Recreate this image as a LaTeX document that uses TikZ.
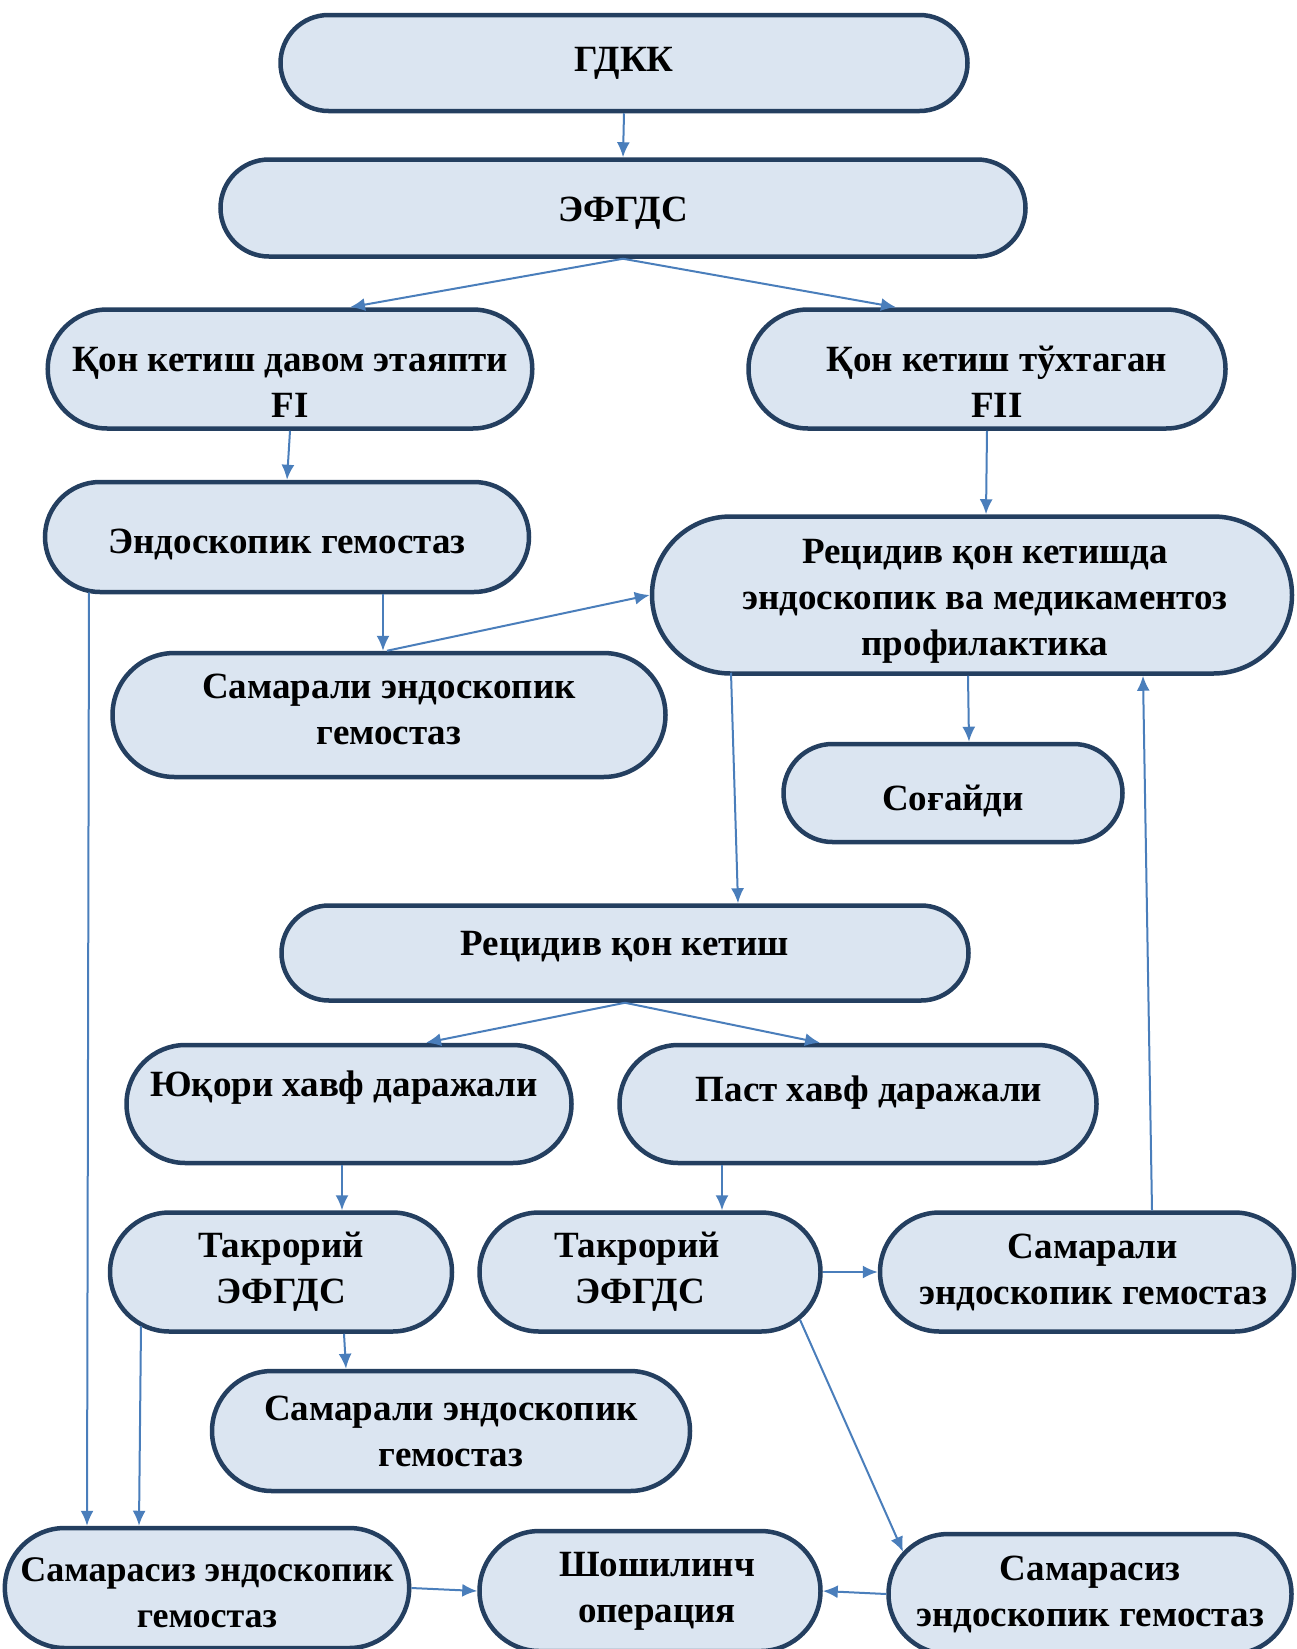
\documentclass[tikz,border=0pt]{standalone}
\usepackage{fontspec}
\setmainfont{Liberation Serif}
\usetikzlibrary{arrows.meta,shapes.misc}
\definecolor{boxline}{HTML}{243F60}
\definecolor{boxfill}{HTML}{DBE5F1}
\definecolor{arrowblue}{HTML}{4A7EBB}
\tikzset{
  box/.style={rounded rectangle,draw=boxline,fill=boxfill,line width=4.5pt,
    align=center,inner sep=0pt,font=\fontsize{37}{46}\selectfont\bfseries},
  arr/.style={->,draw=arrowblue,line width=2pt}
}
\begin{document}
\begin{tikzpicture}[x=1pt,y=-1pt,>={Latex[length=15pt,width=13pt]}]
	\useasboundingbox (0,0) rectangle (1296,1649);
	\clip (0,0) rectangle (1296,1649);
		% top part
		\node[box,minimum width=687pt,minimum height=96pt] (gdkk) at (624,63) {ГДКК};
		\node[box,minimum width=805pt,minimum height=97pt,text height=34pt] (efgds) at (623,208) {ЭФГДС};
		\node[box,minimum width=477pt,minimum height=119pt,text height=96pt] (fi) at (290,369) {Қон кетиш давом этаяпти\\FI};
		\node[box,minimum width=477pt,minimum height=119pt,text height=96pt] (fii) at (987,369) {\hspace*{20pt}Қон кетиш тўхтаган\\\hspace*{20pt}FII};
		\node[box,minimum width=484pt,minimum height=110pt,text height=40pt] (endo) at (287,537) {Эндоскопик гемостаз};
		\node[box,minimum width=640pt,minimum height=157pt,text height=129pt] (prof) at (972,595) {\hspace*{26pt}Рецидив қон кетишда\\\hspace*{26pt}эндоскопик ва медикаментоз\\\hspace*{26pt}профилактика};
		\node[box,minimum width=553pt,minimum height=124pt,text depth=12pt] (sam1) at (389,715) {Самарали эндоскопик\\гемостаз};
		\node[box,minimum width=339pt,minimum height=98pt,text height=42pt] (sogaydi) at (953,793) {Соғайди};
		
		% lower part
		\node[box,minimum width=687pt,minimum height=95pt,text depth=20pt] (retsidiv) at (625,953) {Рецидив қон кетиш};
		\node[box,minimum width=445pt,minimum height=118pt,text depth=40pt] (yuqori) at (349,1104) {Юқори хавф даражали\hspace*{10pt}};
		\node[box,minimum width=477pt,minimum height=118pt,text depth=30pt] (past) at (858,1104) {\hspace*{22pt}Паст хавф даражали};
		\node[box,minimum width=342pt,minimum height=119pt] (takr1) at (281,1272) {Такрорий\\ЭФГДС};
		\node[box,minimum width=341pt,minimum height=119pt] (takr2) at (650,1272) {Такрорий\hspace*{26pt}\\ЭФГДС\hspace*{20pt}};
		\node[box,minimum width=414pt,minimum height=119pt] (sam2) at (1087,1272) {\hspace*{12pt}Самарали\\\hspace*{12pt}эндоскопик гемостаз};
		\node[box,minimum width=478pt,minimum height=120pt] (sam3) at (451,1431) {Самарали эндоскопик\\гемостаз};
		\node[box,minimum width=392pt,minimum height=120pt,text height=80pt,font=\fontsize{36}{46}\selectfont\bfseries] (samsiz1) at (207,1588) {Самарасиз эндоскопик\\гемостаз};
		\node[box,minimum width=341pt,minimum height=120pt] (shosh) at (650,1591) {\hspace*{14pt}Шошилинч\\\hspace*{14pt}операция};
		\node[box,minimum width=403pt,minimum height=120pt] (samsiz2) at (1090,1594) {Самарасиз\\эндоскопик гемостаз};
		
		% arrows
		\draw[arr] (gdkk.south) -- (efgds.north);
		\draw[arr] (efgds.south) -- ([xshift=60pt]fi.north);
		\draw[arr] (efgds.south) -- ([xshift=-91pt]fii.north);
		\draw[arr] (fi.south) -- (endo.north);
		\draw[arr] (fii.south) -- ([xshift=14pt]prof.north);
		\draw[arr] ([xshift=96pt]endo.south) -- ([xshift=-6pt]sam1.north);
		\draw[arr] ([xshift=-2pt]sam1.north) -- (prof.west);
		\draw[arr] ([xshift=-198pt,yshift=2pt]endo.south) -- ([xshift=-120pt]samsiz1.north);
		\draw[arr] ([xshift=-4pt]prof.south) -- ([xshift=16pt]sogaydi.north);
		\draw[arr] ([xshift=-241pt,yshift=3pt]prof.south) -- ([xshift=113pt]retsidiv.north);
		\draw[arr] (retsidiv.south) -- ([xshift=77pt]yuqori.north);
		\draw[arr] (retsidiv.south) -- ([xshift=-38pt]past.north);
		\draw[arr] ([xshift=-7pt]yuqori.south) -- ([xshift=61pt]takr1.north);
		\draw[arr] ([xshift=-136pt]past.south) -- ([xshift=72pt]takr2.north);
		\draw[arr] ([xshift=65pt]sam2.north) -- ([xshift=171pt]prof.south);
		\draw[arr] (takr2.east) -- (sam2.west);
		\draw[arr] ([xshift=150pt,yshift=14pt]takr2.south) -- ([xshift=-187pt,yshift=-20pt]samsiz2.north);
		\draw[arr] ([xshift=63pt]takr1.south) -- ([xshift=-105pt]sam3.north);
		\draw[arr] ([xshift=-140pt,yshift=8pt]takr1.south) -- ([xshift=-68pt]samsiz1.north);
		\draw[arr] (samsiz1.east) -- (shosh.west);
		\draw[arr] (samsiz2.west) -- (shosh.east);
	\end{tikzpicture}
\end{document}
